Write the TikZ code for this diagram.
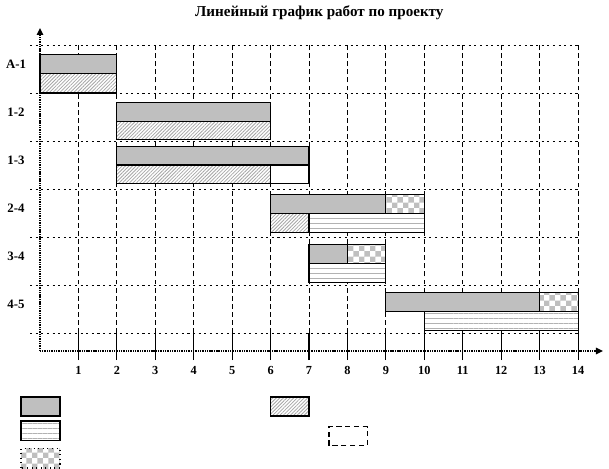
\documentclass[tikz,border=0pt]{standalone}
\usepackage{fontspec}
\setmainfont{Liberation Serif}
\usetikzlibrary{patterns,patterns.meta,arrows.meta}
\pgfdeclarepatternformonly{chess}{\pgfpointorigin}{\pgfpoint{6.2pt}{6.2pt}}{\pgfpoint{6.2pt}{6.2pt}}{%
  \pgfpathrectangle{\pgfpointorigin}{\pgfpoint{3.1pt}{3.1pt}}%
  \pgfpathrectangle{\pgfpoint{3.1pt}{3.1pt}}{\pgfpoint{3.1pt}{3.1pt}}%
  \pgfusepath{fill}}
\tikzset{%
        bar/.style = { draw=black, line width=0.6pt, preaction={fill=white} },
       plan/.style = { bar, fill=gray!50 },
       fact/.style = { bar, pattern={Lines[angle=45,distance=1.4pt,line width=0.45pt]}, pattern color=gray!70 },
   shiftbar/.style = { bar, pattern={Lines[angle=0,distance=2.85pt,line width=0.5pt]}, pattern color=gray!60 },
    reserve/.style = { bar, pattern=chess, pattern color=gray!50 },
       free/.style = { bar, fill=white },
      hgrid/.style = { line width=0.5pt, dash pattern=on 1.2pt off 2pt },
      vgrid/.style = { line width=0.5pt, dash pattern=on 2.8pt off 1.8pt },
       tick/.style = { line width=0.6pt },
       axis/.style = { line width=0.9pt, dash pattern=on 0.6pt off 0.4pt, -{Triangle[length=4pt,width=3.6pt]} },
        num/.style = { font=\bfseries\fontsize{7}{8}\selectfont, inner sep=0pt },
     rowlab/.style = { font=\bfseries\fontsize{7.3}{8}\selectfont, inner sep=0pt },
      title/.style = { font=\bfseries\fontsize{8.6}{11}\selectfont, inner sep=0pt }
}
\begin{document}
\begin{tikzpicture}[x=0.7686cm,y=0.96cm,line cap=butt]
\useasboundingbox (-1.041,-2.458) rectangle (14.806,7.3125);
\node[title] (title) at (7.27,7.04) {Линейный график работ по проекту};
% grid
\foreach \k in {0,...,6}
  \draw[hgrid] (-0.26,\k+0.375) -- (14,\k+0.375);
\foreach \i in {1,...,14} {
  \draw[vgrid] (\i,0.375) -- (\i,6.375);
  \draw[tick] (\i,-0.19) -- (\i,0.375);
  \node[num] (num\i) at (\i,-0.41) {\i};
}
\draw[axis] (0,0) -- (0,6.73);
\draw[axis] (0,0) -- (14.65,0);
% row labels
\foreach \r/\lab in {0/4-5,1/3-4,2/2-4,3/1-3,4/1-2,5/A-1}
  \node[rowlab] (lab\r) at (-0.625,\r+0.97) {\lab};
% A-1
\draw[plan] (0,5.775) rectangle (2,6.175);
\draw[fact] (0,5.375) rectangle (2,5.775);
% 1-2
\draw[plan] (2,4.79) rectangle (6,5.18);
\draw[fact] (2,4.40) rectangle (6,4.79);
% 1-3
\draw[plan] (2,3.875) rectangle (7,4.27);
\draw[fact] (2,3.48) rectangle (6,3.875);
\draw[free] (6,3.48) rectangle (7,3.875);
% 2-4
\draw[plan] (6,2.87) rectangle (9,3.27);
\draw[reserve] (9,2.87) rectangle (10,3.27);
\draw[fact] (6,2.47) rectangle (7,2.87);
\draw[shiftbar] (7,2.47) rectangle (10,2.87);
% 3-4
\draw[plan] (7,1.83) rectangle (8,2.22);
\draw[reserve] (8,1.83) rectangle (9,2.22);
\draw[shiftbar] (7,1.43) rectangle (9,1.83);
% 4-5
\draw[plan] (9,0.82) rectangle (13,1.21);
\draw[reserve] (13,0.82) rectangle (14,1.21);
\draw[shiftbar] (10,0.43) rectangle (14,0.82);
% legend
\draw[plan] (-0.494,-1.354) rectangle (0.52,-0.958);
\draw[shiftbar] (-0.494,-1.869) rectangle (0.52,-1.458);
\draw[reserve,dotted] (-0.494,-2.438) rectangle (0.52,-2.035);
\draw[fact] (6.01,-1.354) rectangle (7.0,-0.958);
\draw[free,densely dashed] (7.52,-1.973) rectangle (8.51,-1.577);
\end{tikzpicture}
\end{document}
